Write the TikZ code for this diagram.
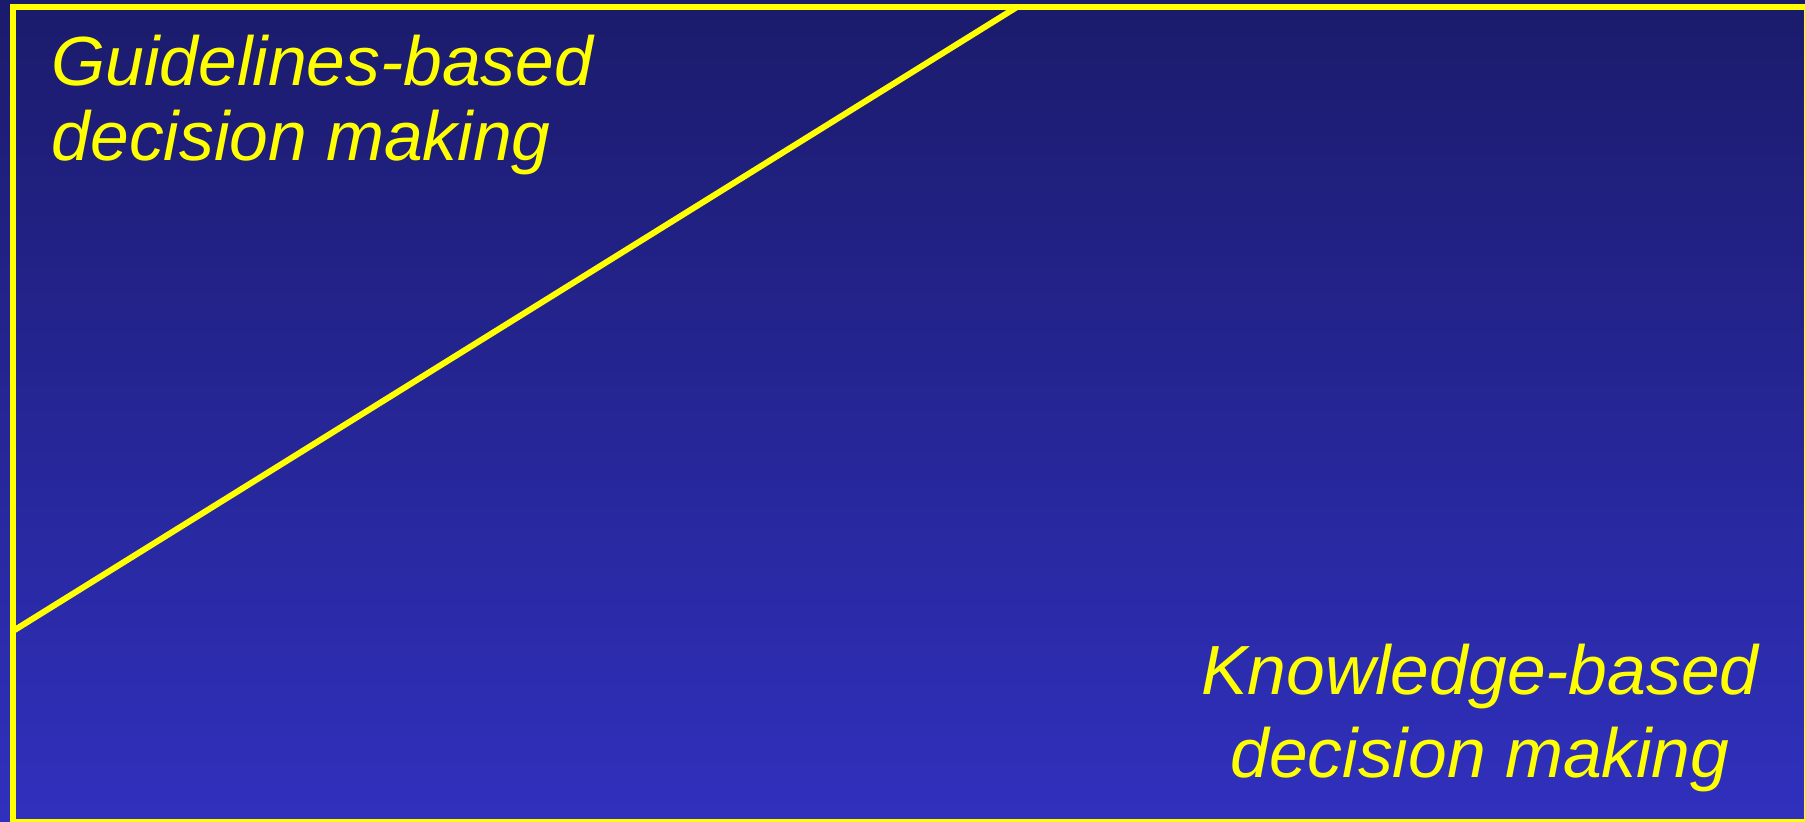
\documentclass[tikz,border=0pt]{standalone}
\usepackage{fontspec}
\setmainfont{Liberation Sans}
\usepackage{xcolor}
\usetikzlibrary{positioning}
\definecolor{navytop}{HTML}{1B1B6C}
\definecolor{navybot}{HTML}{3030BE}
\definecolor{signal}{HTML}{FFFF00}
\tikzset{
  frameline/.style={draw=signal,line width=0.6mm},
  caption/.style={text=signal,font=\itshape\fontsize{19.8pt}{21.3pt}\selectfont,
                  inner sep=0pt}
}
\begin{document}
\begin{tikzpicture}[x=0.1mm,y=-0.1mm]
    \useasboundingbox (0,0) rectangle (1805,821);
    \shade[top color=navytop,bottom color=navybot] (0,0) rectangle (1805,821);

    % frame and the dividing diagonal
    \begin{scope}
      \clip (0,0) rectangle (1805,821);
      \draw[frameline] (13,7) rectangle (1807,822);
    \end{scope}
    \coordinate (topend) at (1017,7);
    \coordinate (leftend) at (13,631);
    \draw[frameline] (topend) -- (leftend);

    % base anchor sits on the last line
    \node[caption,align=left,anchor=base west] (guide) at (51,160)
      {Guidelines-based\\decision making};
    \node[caption,align=center,anchor=base] (know) at (1480,777)
      {Knowledge-based\\[0.8mm]decision making};
\end{tikzpicture}
\end{document}
